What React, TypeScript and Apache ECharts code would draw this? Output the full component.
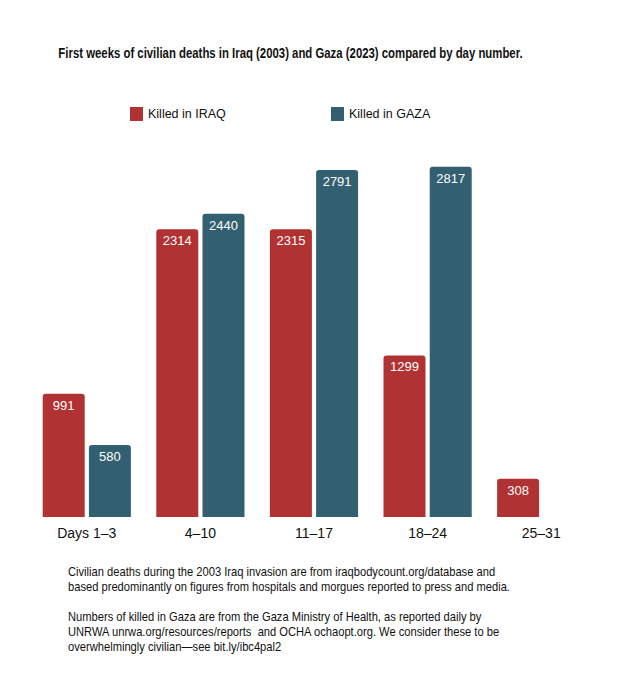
import { useEffect, useRef } from "react";
import * as echarts from "echarts";

// ─── Data ──────────────────────────────────────────────────────────
const CATEGORIES = ["Days 1\u20133", "4\u201310", "11\u201317", "18\u201324", "25\u201331"];
const IRAQ_KILLED = [991, 2314, 2315, 1299, 308];
const GAZA_KILLED = [580, 2440, 2791, 2817, null];

const TITLE = "First weeks of civilian deaths in Iraq (2003) and Gaza (2023) compared by day number.";
const NOTES = [
  "Civilian deaths during the 2003 Iraq invasion are from iraqbodycount.org/database and",
  "based predominantly on figures from hospitals and morgues reported to press and media.",
  "",
  "Numbers of killed in Gaza are from the Gaza Ministry of Health, as reported daily by",
  "UNRWA unrwa.org/resources/reports  and OCHA ochaopt.org. We consider these to be",
  "overwhelmingly civilian\u2014see bit.ly/ibc4pal2",
];

const RED = "#b03232";
const TEAL = "#326070";
const INK = "#111111";
const FONT = "'Liberation Sans', Arial, Helvetica, sans-serif";

export default function App() {
  const ref = useRef<HTMLDivElement>(null);

  useEffect(() => {
    if (!ref.current) return;
    const chart = echarts.init(ref.current, undefined, { renderer: "svg" });

    const barLabel = {
      show: true,
      position: "insideTop",
      distance: 5,
      color: "#ffffff",
      fontSize: 13,
      fontFamily: FONT,
    };

    const legendBase = {
      top: 107,
      padding: 0,
      icon: "rect",
      itemWidth: 13,
      itemHeight: 14,
      textStyle: { fontSize: 12.5, color: INK, fontFamily: FONT },
      selectedMode: false,
    };

    chart.setOption({
      animation: false,
      backgroundColor: "#ffffff",
      textStyle: { fontFamily: FONT },
      // condensed title and tighter footnote, squeezed horizontally
      graphic: [
        {
          type: "text",
          x: 290.5,
          y: 53,
          scaleX: 0.785,
          style: {
            text: TITLE,
            font: "bold 14.5px " + FONT,
            fill: INK,
            textAlign: "center",
            textVerticalAlign: "middle",
          },
        },
        {
          type: "text",
          x: 68,
          y: 564.5,
          scaleX: 0.93,
          style: {
            text: NOTES.join("\n"),
            font: "12px " + FONT,
            lineHeight: 15,
            fill: INK,
            textAlign: "left",
            textVerticalAlign: "top",
          },
        },
      ],
      legend: [
        { ...legendBase, data: ["Killed in IRAQ"], left: 130 },
        { ...legendBase, data: ["Killed in GAZA"], left: 331 },
      ],
      grid: { left: 30, right: 20, top: 144, bottom: 163, containLabel: false },
      xAxis: {
        type: "category",
        data: CATEGORIES,
        axisLine: { show: false },
        axisTick: { show: false },
        axisLabel: { color: INK, fontSize: 14, margin: 9, fontFamily: FONT },
      },
      yAxis: {
        type: "value",
        min: 0,
        max: 3000,
        show: false,
        splitLine: { show: false },
      },
      series: [
        {
          name: "Killed in IRAQ",
          type: "bar",
          data: IRAQ_KILLED,
          barWidth: 42,
          barGap: "10%",
          itemStyle: { color: RED, borderRadius: [3, 3, 0, 0] },
          label: barLabel,
        },
        {
          name: "Killed in GAZA",
          type: "bar",
          data: GAZA_KILLED,
          barWidth: 42,
          barGap: "10%",
          itemStyle: { color: TEAL, borderRadius: [3, 3, 0, 0] },
          label: barLabel,
        },
      ],
    });

    return () => chart.dispose();
  }, []);

  return (
    <div
      ref={ref}
      style={{ position: "absolute", left: 0, top: 0, width: 618, height: 680, background: "#fff" }}
    />
  );
}
